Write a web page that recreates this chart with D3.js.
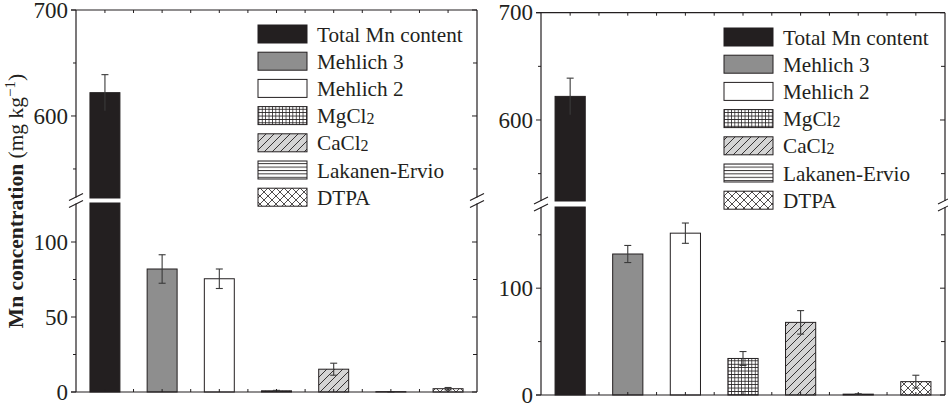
<!DOCTYPE html>
<html>
<head>
<meta charset="utf-8">
<script src="https://cdn.jsdelivr.net/npm/d3@7"></script>
<style>
  html, body { margin: 0; padding: 0; background: #fff; }
  svg { display: block; }
  text { font-family: "Liberation Serif", "DejaVu Serif", serif; fill: #231f20; }
</style>
</head>
<body>
<svg id="chart" width="948" height="404"></svg>
<script>
// Extraction methods (x categories)
const categories = ["Total Mn content", "Mehlich 3", "Mehlich 2", "MgCl2", "CaCl2", "Lakanen-Ervio", "DTPA"];

// Panel A (left) means and standard deviations, mg/kg
const leftValues = [622, 82, 75.5, 0.8, 15.2, 0.2, 2.2];
const leftErrors = [17, 9.5, 6.5, 0.3, 4, 0.1, 0.8];

// Panel B (right) means and standard deviations, mg/kg
const rightValues = [622, 132, 151.5, 34.2, 68, 0.8, 12.5];
const rightErrors = [17, 8, 9.5, 6.5, 11, 0.3, 6];

// Axis ticks
const leftUpperTicks = [600, 700];
const leftUpperMinor = [550, 650];
const leftLowerTicks = [0, 50, 100];
const leftLowerMinor = [25, 75];
const rightUpperTicks = [600, 700];
const rightUpperMinor = [550, 650];
const rightLowerTicks = [0, 100];
const rightLowerMinor = [50, 150];

const svg = d3.select("#chart");
const ink = "#231f20";

// ---- fill patterns ----
const defs = svg.append("defs");
function pat(id, size, bg, draw) {
  const p = defs.append("pattern").attr("id", id).attr("patternUnits", "userSpaceOnUse")
    .attr("width", size).attr("height", size);
  p.append("rect").attr("width", size).attr("height", size).attr("fill", bg);
  draw(p, size);
}
pat("p-grid", 3.4, "#fff", (p, s) => {
  p.append("path").attr("d", `M0,0.3H${s}M0.3,0V${s}`).attr("stroke", ink).attr("stroke-width", 0.9).attr("fill", "none");
});
pat("p-diag", 8, "#d4d4d4", (p, s) => {
  p.append("path").attr("d", `M0,${s}L${s},0M${-s/2},${s/2}L${s/2},${-s/2}M${s/2},${s*1.5}L${s*1.5},${s/2}`)
    .attr("stroke", ink).attr("stroke-width", 0.9).attr("fill", "none");
});
pat("p-horiz", 3.4, "#fff", (p, s) => {
  p.append("path").attr("d", `M0,0.5H${s}`).attr("stroke", ink).attr("stroke-width", 0.9).attr("fill", "none");
});
pat("p-cross", 8, "#fff", (p, s) => {
  p.append("path").attr("d", `M0,0L${s},${s}M0,${s}L${s},0`).attr("stroke", ink).attr("stroke-width", 0.8).attr("fill", "none");
});

const fills = ["#231f20", "#8e8e8e", "#ffffff", "url(#p-grid)", "url(#p-diag)", "url(#p-horiz)", "url(#p-cross)"];
const color = d3.scaleOrdinal().domain(categories).range(fills);

function drawPanel(cfg) {
  const g = svg.append("g");
  const x = d3.scaleBand().domain(categories).range([cfg.x0, cfg.x1]).paddingInner(0.476).paddingOuter(0.244);
  const yU = d3.scaleLinear().domain([cfg.breakHi, 700]).range([cfg.yBreakTop, cfg.top]);
  const yL = d3.scaleLinear().domain([0, cfg.lowMax]).range([cfg.bottom, cfg.yBreakBot]);
  const yOf = v => v > cfg.lowMax ? yU(v) : yL(v);

  // bars
  categories.forEach((c, i) => {
    const v = cfg.values[i];
    const bx = x(c), bw = x.bandwidth();
    const low = Math.min(v, cfg.lowMax);
    g.append("rect").attr("x", bx).attr("y", yL(low)).attr("width", bw).attr("height", yL(0) - yL(low))
      .attr("fill", color(c)).attr("stroke", ink).attr("stroke-width", 1);
    if (v > cfg.lowMax) {
      g.append("rect").attr("x", bx).attr("y", yU(v)).attr("width", bw).attr("height", yU(cfg.breakHi) - yU(v))
        .attr("fill", color(c)).attr("stroke", ink).attr("stroke-width", 1);
    }
  });

  // error bars
  categories.forEach((c, i) => {
    const v = cfg.values[i], e = cfg.errors[i];
    const cx = x(c) + x.bandwidth() / 2;
    const yt = yOf(v + e), yb = yOf(Math.max(0, v - e));
    const eg = g.append("g").attr("stroke", "#3a3a3a").attr("stroke-width", 1.1);
    eg.append("line").attr("x1", cx).attr("x2", cx).attr("y1", yt).attr("y2", yb);
    eg.append("line").attr("x1", cx - 3.5).attr("x2", cx + 3.5).attr("y1", yt).attr("y2", yt);
    if (i > 0) eg.append("line").attr("x1", cx - 3.5).attr("x2", cx + 3.5).attr("y1", yb).attr("y2", yb);
  });

  // frame lines
  const axisG = g.append("g").attr("stroke", ink).attr("stroke-width", 1.2).attr("fill", "none");
  [cfg.x0, cfg.x1].forEach(xx => {
    axisG.append("line").attr("x1", xx).attr("x2", xx).attr("y1", cfg.top).attr("y2", cfg.bottom);
  });
  axisG.append("line").attr("x1", cfg.x0 - 5).attr("x2", cfg.x1).attr("y1", cfg.bottom).attr("y2", cfg.bottom);
  axisG.append("line").attr("x1", cfg.x0 - 5).attr("x2", cfg.x1).attr("y1", cfg.top).attr("y2", cfg.top);

  // left axis ticks + labels
  const tickG = g.append("g").attr("stroke", ink).attr("stroke-width", 1);
  const major = cfg.upperTicks.map(v => yU(v)).concat(cfg.lowerTicks.map(v => yL(v)));
  const minor = cfg.upperMinor.map(v => yU(v)).concat(cfg.lowerMinor.map(v => yL(v)));
  major.forEach(yy => {
    tickG.append("line").attr("x1", cfg.x0 - 5).attr("x2", cfg.x0).attr("y1", yy).attr("y2", yy);
    tickG.append("line").attr("x1", cfg.x1 - 5).attr("x2", cfg.x1).attr("y1", yy).attr("y2", yy);
  });
  minor.forEach(yy => {
    tickG.append("line").attr("x1", cfg.x0 - 3).attr("x2", cfg.x0).attr("y1", yy).attr("y2", yy);
    tickG.append("line").attr("x1", cfg.x1 - 4).attr("x2", cfg.x1).attr("y1", yy).attr("y2", yy);
  });
  const lab = g.append("g").attr("font-size", 23).attr("text-anchor", "end");
  cfg.upperTicks.forEach(v => lab.append("text").attr("x", cfg.x0 - 8).attr("y", yU(v)).attr("dy", "0.33em").text(v));
  cfg.lowerTicks.forEach(v => lab.append("text").attr("x", cfg.x0 - 8).attr("y", yL(v)).attr("dy", "0.33em").text(v));

  // x ticks at band centres and band edges (top and bottom, inward)
  const step = x.step();
  categories.forEach((c, i) => {
    const cx = x(c) + x.bandwidth() / 2;
    const xs = i < categories.length - 1 ? [cx, cx + step / 2] : [cx];
    xs.forEach(xx => {
      tickG.append("line").attr("x1", xx).attr("x2", xx).attr("y1", cfg.bottom).attr("y2", cfg.bottom - 3);
      tickG.append("line").attr("x1", xx).attr("x2", xx).attr("y1", cfg.top).attr("y2", cfg.top + 3);
    });
  });

  // axis break marks
  const ym = (cfg.yBreakTop + cfg.yBreakBot) / 2;
  [cfg.x0, cfg.x1].forEach(xx => {
    g.append("rect").attr("x", xx - 2).attr("y", ym - 3).attr("width", 4).attr("height", 6).attr("fill", "#fff");
    [-3.5, 3.5].forEach(d => {
      g.append("line").attr("x1", xx - 7).attr("x2", xx + 7).attr("y1", ym + d + 3.5).attr("y2", ym + d - 3.5)
        .attr("stroke", ink).attr("stroke-width", 1.1);
    });
  });

  // legend
  const lg = g.append("g");
  categories.forEach((c, i) => {
    const ly = cfg.legY + i * 27.2;
    lg.append("rect").attr("x", cfg.legX).attr("y", ly).attr("width", 49).attr("height", 18)
      .attr("fill", color(c)).attr("stroke", ink).attr("stroke-width", 1);
    const t = lg.append("text").attr("x", cfg.legX + 59).attr("y", ly + 16.5).attr("font-size", 21.2);
    const m = c.match(/^(.*Cl)(2)$/);
    if (m) {
      t.append("tspan").text(m[1]);
      t.append("tspan").attr("font-size", 16).attr("dy", 1).text(m[2]);
    } else {
      t.text(c);
    }
  });
}

drawPanel({
  x0: 76, x1: 477, top: 10, bottom: 392,
  breakHi: 522.6, yBreakTop: 198, lowMax: 126, yBreakBot: 203,
  values: leftValues, errors: leftErrors,
  upperTicks: leftUpperTicks, upperMinor: leftUpperMinor,
  lowerTicks: leftLowerTicks, lowerMinor: leftLowerMinor,
  legX: 258, legY: 25
});

drawPanel({
  x0: 541, x1: 945, top: 12.7, bottom: 395,
  breakHi: 524.5, yBreakTop: 201, lowMax: 176, yBreakBot: 207,
  values: rightValues, errors: rightErrors,
  upperTicks: rightUpperTicks, upperMinor: rightUpperMinor,
  lowerTicks: rightLowerTicks, lowerMinor: rightLowerMinor,
  legX: 724, legY: 28
});

// y-axis title
const yt = svg.append("text").attr("transform", "translate(23,201) rotate(-90)")
  .attr("text-anchor", "middle").attr("font-size", 21.5);
yt.append("tspan").attr("font-weight", "bold").text("Mn concentration");
yt.append("tspan").text(" (mg kg");
yt.append("tspan").attr("font-size", 15).attr("dy", -8).text("\u22121");
yt.append("tspan").attr("dy", 8).text(")");
</script>
</body>
</html>
